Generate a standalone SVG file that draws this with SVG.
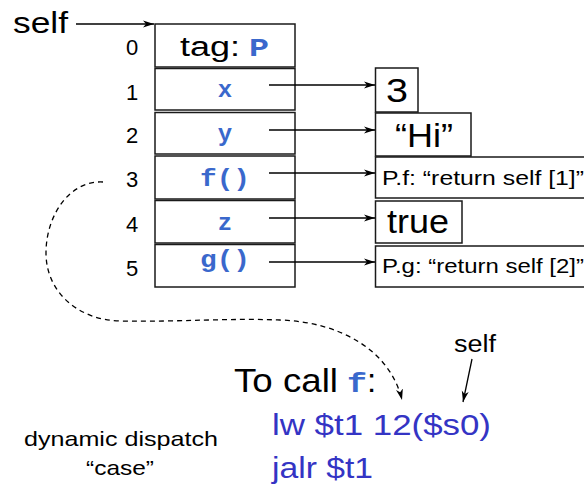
<svg xmlns="http://www.w3.org/2000/svg" width="584" height="487" viewBox="0 0 584 487">
<style>
.box{fill:#fff;stroke:#1a1a1a;stroke-width:1.5}
.t{font-family:"Liberation Sans",Arial,sans-serif;fill:#000}
.code{font-family:"Liberation Mono","Courier New",monospace;font-weight:bold;fill:#3a68cc}
.asm{font-family:"Liberation Sans",Arial,sans-serif;fill:#3434c4}
.ln{stroke:#000;stroke-width:1.3;fill:none}
.dash{stroke:#000;stroke-width:1.3;fill:none;stroke-dasharray:5,4}
</style>
<defs>
<marker id="ah" markerWidth="12" markerHeight="8" refX="11" refY="4" orient="auto" markerUnits="userSpaceOnUse">
<path d="M0,0.5 L11,4 L0,7.5 L3,4 z" fill="#000"/>
</marker>
</defs>
<rect width="584" height="487" fill="#fff"/>

<g id="self-label">
<text class="t" x="13" y="33" font-size="29" textLength="55" lengthAdjust="spacingAndGlyphs">self</text>
</g>

<g id="indices">
<text class="t" x="132" y="55" font-size="22" text-anchor="middle">0</text>
<text class="t" x="132" y="100" font-size="22" text-anchor="middle">1</text>
<text class="t" x="132" y="143" font-size="22" text-anchor="middle">2</text>
<text class="t" x="132" y="187" font-size="22" text-anchor="middle">3</text>
<text class="t" x="132" y="232" font-size="22" text-anchor="middle">4</text>
<text class="t" x="132" y="276" font-size="22" text-anchor="middle">5</text>
</g>

<g id="row0">
<rect class="box" x="155" y="24" width="140" height="43"/>
<text class="t" x="180" y="56" font-size="27" textLength="60" lengthAdjust="spacingAndGlyphs">tag:</text>
<text class="code" x="249" y="56" font-size="25" textLength="20" lengthAdjust="spacingAndGlyphs">P</text>
</g>
<g id="row1">
<rect class="box" x="155" y="68.5" width="140" height="41.5"/>
<text class="code" x="225" y="97" font-size="24" text-anchor="middle">x</text>
</g>
<g id="row2">
<rect class="box" x="155" y="112.5" width="140" height="41.5"/>
<text class="code" x="225" y="141" font-size="24" text-anchor="middle">y</text>
</g>
<g id="row3">
<rect class="box" x="155" y="156" width="140" height="43"/>
<text class="code" x="200" y="186" font-size="24" textLength="50" lengthAdjust="spacingAndGlyphs">f()</text>
</g>
<g id="row4">
<rect class="box" x="155" y="200.5" width="140" height="42.5"/>
<text class="code" x="225" y="230" font-size="24" text-anchor="middle">z</text>
</g>
<g id="row5">
<rect class="box" x="155" y="244.5" width="140" height="42.5"/>
<text class="code" x="200" y="267" font-size="24" textLength="50" lengthAdjust="spacingAndGlyphs">g()</text>
</g>

<g id="val3">
<rect class="box" x="375.5" y="68" width="42.5" height="44"/>
<text class="t" x="386" y="102" font-size="33" textLength="22" lengthAdjust="spacingAndGlyphs">3</text>
</g>
<g id="valHi">
<rect class="box" x="375.5" y="113" width="95.5" height="43"/>
<text class="t" x="395" y="147" font-size="33" textLength="58" lengthAdjust="spacingAndGlyphs">“Hi”</text>
</g>
<g id="valPf">
<rect class="box" x="375.5" y="157" width="220" height="41"/>
<text class="t" x="382" y="185" font-size="21" textLength="202" lengthAdjust="spacingAndGlyphs">P.f: “return self [1]”</text>
</g>
<g id="valTrue">
<rect class="box" x="375.5" y="201" width="86.5" height="42"/>
<text class="t" x="387" y="233" font-size="33" textLength="62" lengthAdjust="spacingAndGlyphs">true</text>
</g>
<g id="valPg">
<rect class="box" x="375.5" y="246" width="220" height="41"/>
<text class="t" x="382" y="273" font-size="21" textLength="202" lengthAdjust="spacingAndGlyphs">P.g: “return self [2]”</text>
</g>

<g id="call">
<text class="t" x="234" y="392" font-size="33" textLength="104" lengthAdjust="spacingAndGlyphs">To call</text>
<text class="code" x="347" y="392" font-size="28" textLength="20" lengthAdjust="spacingAndGlyphs" fill="#3a6fd0">f</text>
<text class="t" x="367" y="392" font-size="33">:</text>
<text class="t" x="454" y="352" font-size="23" textLength="42" lengthAdjust="spacingAndGlyphs">self</text>
<text class="asm" x="272" y="435" font-size="30" textLength="219" lengthAdjust="spacingAndGlyphs">lw $t1 12($s0)</text>
<text class="asm" x="272" y="478" font-size="30" textLength="101" lengthAdjust="spacingAndGlyphs">jalr $t1</text>
</g>

<g id="caption">
<text class="t" x="24" y="446" font-size="21" textLength="194" lengthAdjust="spacingAndGlyphs">dynamic dispatch</text>
<text class="t" x="86" y="475" font-size="21" textLength="68" lengthAdjust="spacingAndGlyphs">“case”</text>
</g>

<g id="connectors">
<line class="ln" x1="76" y1="24" x2="154" y2="24" marker-end="url(#ah)"/>
<line class="ln" x1="269" y1="85" x2="375" y2="85" marker-end="url(#ah)"/>
<line class="ln" x1="269" y1="130" x2="375" y2="130" marker-end="url(#ah)"/>
<line class="ln" x1="269" y1="173" x2="375" y2="173" marker-end="url(#ah)"/>
<line class="ln" x1="269" y1="218" x2="375" y2="218" marker-end="url(#ah)"/>
<line class="ln" x1="269" y1="262" x2="375" y2="262" marker-end="url(#ah)"/>
<line class="ln" x1="472" y1="359" x2="463" y2="402" marker-end="url(#ah)"/>
<path class="dash" d="M103,182 C70,180 46,215 46,253 C46,292 78,320 120,321 C180,322 230,318 280,320 C340,322 390,350 402,400" marker-end="url(#ah)"/>
</g>
</svg>
